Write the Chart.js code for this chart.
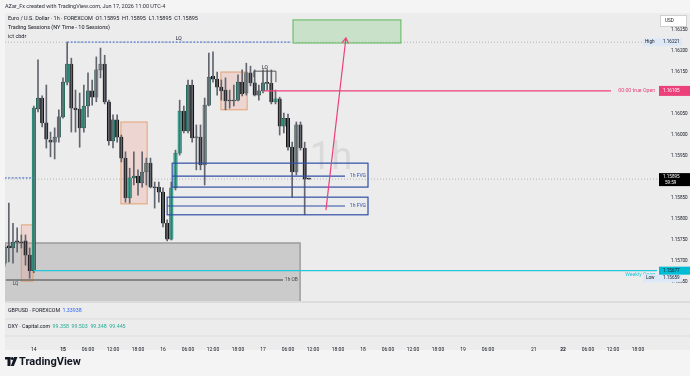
<!DOCTYPE html>
<html>
<head>
<meta charset="utf-8">
<script src="https://cdn.jsdelivr.net/npm/chart.js@4.4.1/dist/chart.umd.min.js"></script>
<style>
  html, body { margin: 0; padding: 0; background: #f2f2f2; }
  canvas { display: block; }
</style>
</head>
<body>
<canvas id="chart" width="690" height="376"></canvas>
<script>
// EURUSD 1h bars, hours counted from Jun 17 00:00 (bar index, weekend removed)
const barIndex = [-62,-61,-60,-59,-58,-57,-56,-55,-54,-53,-52,-51,-50,-49,-48,-47,-46,-45,-44,-43,
  -42,-41,-40,-39,-38,-37,-36,-35,-34,-33,-32,-31,-30,-29,-28,-27,-26,-25,-24,-23,
  -22,-21,-20,-19,-18,-17,-16,-15,-14,-13,-12,-11,-10,-9,-8,-7,-6,-5,-4,-3,
  -2,-1,0,1,2,3,4,5,6,7,8,9,10,11];
const openPrices = [1.15695,1.15736,1.15731,1.15748,1.15745,1.15748,1.15714,1.15677,1.16062,1.16088,
  1.16029,1.15988,1.15983,1.15995,1.16043,1.16126,1.16169,1.16064,1.16062,1.16017,
  1.16069,1.16105,1.16090,1.16155,1.16169,1.16079,1.15986,1.16036,1.15995,1.15945,
  1.15850,1.15898,1.15902,1.15886,1.15912,1.15933,1.15876,1.15876,1.15864,1.15790,
  1.15752,1.15874,1.15957,1.16057,1.16010,1.16119,1.15993,1.15995,1.15929,1.16071,
  1.16140,1.16133,1.16114,1.16107,1.16083,1.16081,1.16083,1.16126,1.16100,1.16148,
  1.16124,1.16095,1.16105,1.16124,1.16123,1.16079,1.16086,1.16021,1.16040,1.15971,
  1.15912,1.16024,1.15969,1.15895];
const highPrices = [1.15740,1.15838,1.15790,1.15779,1.15762,1.15762,1.15731,1.16069,1.16179,1.16093,
  1.16119,1.16007,1.16017,1.16060,1.16136,1.16221,1.16183,1.16107,1.16100,1.16119,
  1.16148,1.16131,1.16186,1.16207,1.16190,1.16083,1.16048,1.16048,1.16000,1.15960,
  1.15921,1.15960,1.15917,1.15960,1.15945,1.15945,1.15888,1.15888,1.15874,1.15798,
  1.15888,1.15964,1.16083,1.16069,1.16131,1.16131,1.16024,1.16024,1.16088,1.16195,
  1.16198,1.16150,1.16131,1.16136,1.16107,1.16119,1.16143,1.16155,1.16171,1.16164,
  1.16155,1.16119,1.16155,1.16155,1.16155,1.16107,1.16090,1.16052,1.16050,1.15983,
  1.16031,1.16031,1.15983,1.15895];
const lowPrices = [1.15688,1.15698,1.15695,1.15721,1.15731,1.15690,1.15659,1.15672,1.16055,1.16019,
  1.15969,1.15948,1.15943,1.15983,1.16040,1.16119,1.16007,1.16007,1.15971,1.16007,
  1.16043,1.16071,1.16079,1.16136,1.16074,1.15976,1.15969,1.15983,1.15936,1.15840,
  1.15838,1.15881,1.15857,1.15876,1.15881,1.15874,1.15826,1.15840,1.15781,1.15748,
  1.15750,1.15869,1.15952,1.16005,1.16005,1.15983,1.15917,1.15917,1.15881,1.16069,
  1.16126,1.16095,1.16083,1.16060,1.16064,1.16069,1.16081,1.16093,1.16095,1.16117,
  1.16093,1.16083,1.16100,1.16107,1.16074,1.16074,1.16000,1.16005,1.15964,1.15852,
  1.15905,1.15964,1.15810,1.15895];
const closePrices = [1.15733,1.15731,1.15745,1.15745,1.15743,1.15714,1.15677,1.16064,1.16088,1.16029,
  1.15990,1.15983,1.15995,1.16043,1.16126,1.16169,1.16064,1.16060,1.16017,1.16069,
  1.16105,1.16090,1.16155,1.16169,1.16079,1.15986,1.16036,1.15995,1.15945,1.15850,
  1.15898,1.15902,1.15886,1.15912,1.15933,1.15876,1.15874,1.15864,1.15790,1.15752,
  1.15874,1.15957,1.16057,1.16010,1.16119,1.15993,1.15995,1.15929,1.16071,1.16138,
  1.16133,1.16114,1.16105,1.16081,1.16081,1.16083,1.16126,1.16098,1.16148,1.16124,
  1.16095,1.16105,1.16124,1.16123,1.16079,1.16086,1.16021,1.16040,1.15971,1.15912,
  1.16024,1.15969,1.15895,1.15895];

// time axis
const timeTickPos = [-55,-48,-42,-36,-30,-24,-18,-12,-6,0,6,12,18,24,30,36,42,48,54,65,72,78,84,90];
const timeTickLabels = ['14','15','06:00','12:00','18:00','16','06:00','12:00','18:00','17','06:00','12:00','18:00',
  '18','06:00','12:00','18:00','19','06:00','21','22','06:00','12:00','18:00'];
const boldTickLabels = ['15','22'];
const priceTicks = [1.1565,1.157,1.1575,1.158,1.1585,1.159,1.1595,1.16,1.1605,1.161,1.1615,1.162,1.1625];

// levels
const lastPrice = 1.15895;
const weekHigh = 1.16221;
const weekLow = 1.15659;
const weeklyOpen = 1.15677;
const trueOpen = 1.16105;

// drawings: [fromBar, toBar, topPrice, bottomPrice]
const orderBlocks = [[-58.0, -55.2, 1.15786, 1.15652], [-34.1, -27.8, 1.16031, 1.15836], [-10.1, -3.8, 1.16150, 1.16060]];
const fvgZones = [[-21.8, 25.2, 1.15933, 1.15876, 1.15902], [-23.0, 25.2, 1.15852, 1.15810, 1.15831]];
const obZone = [-62, 8.9, 1.15743, 1.15602];
const obLine = [-61.7, 4.8, 1.15655];
const targetBox = [7.2, 33.1, 1.16274, 1.16219];
const lqTop = [-47, 6.5, 1.16221];
const lqLeft = [-62, -55, 1.15898];
const lqBracket = [-2.2, 3.1, 1.16152];
const arrowFrom = [15.1, 1.15821];
const arrowTo = [19.9, 1.16231];

const FONT = 'Roboto, "Liberation Sans", sans-serif';
const TEXT = '#131722';
const BULL = '#38bba0';
const BEAR = '#141414';
const PINK = '#ec407a';
const BLUE = '#2f4ea6';

function font(size, weight) {
  return (weight || 'normal') + ' ' + size + 'px ' + FONT;
}

const overlayPlugin = {
  id: 'overlay',
  beforeDraw(chart) {
    const c = chart.ctx;
    const a = chart.chartArea;
    c.save();
    c.fillStyle = '#f4f4f4';
    c.fillRect(0, 0, 690, 376);
    c.fillStyle = '#ececec';
    c.fillRect(a.left, a.top, 690 - a.left, 350 - a.top);
    c.restore();
  },
  beforeDatasetsDraw(chart) {
    const c = chart.ctx;
    const a = chart.chartArea;
    const X = v => chart.scales.x.getPixelForValue(v);
    const Y = v => chart.scales.y.getPixelForValue(v);
    c.save();
    c.beginPath();
    c.rect(a.left, a.top, a.right - a.left, a.bottom - a.top);
    c.clip();

    // watermark
    c.fillStyle = 'rgba(150,150,150,0.2)';
    c.font = font(38);
    c.textAlign = 'center';
    c.textBaseline = 'middle';
    c.fillText('1h', (a.left + a.right) / 2, (a.top + a.bottom) / 2 + 2);

    // order block zone
    c.fillStyle = '#cbcbcb';
    const gx = X(obZone[0]), gr = X(obZone[1]), gt = Y(obZone[2]), gb = Y(obZone[3]);
    c.fillRect(gx, gt, gr - gx, gb - gt);
    c.strokeStyle = '#9c9c9c';
    c.lineWidth = 1.5;
    c.beginPath();
    c.moveTo(gx, gt); c.lineTo(gr, gt); c.lineTo(gr, gb);
    c.stroke();

    // dotted high and last price lines
    c.setLineDash([1, 2]);
    c.lineWidth = 1;
    c.strokeStyle = '#b5b5b5';
    c.beginPath();
    c.moveTo(a.left, Y(weekHigh)); c.lineTo(a.right, Y(weekHigh));
    c.moveTo(a.left, Y(lastPrice)); c.lineTo(a.right, Y(lastPrice));
    c.stroke();
    c.setLineDash([]);

    // order blocks
    orderBlocks.forEach(b => {
      const x0 = X(b[0]), x1 = X(b[1]), y0 = Y(b[2]), y1 = Y(b[3]);
      c.fillStyle = 'rgba(240,160,150,0.3)';
      c.fillRect(x0, y0, x1 - x0, y1 - y0);
      c.strokeStyle = 'rgba(225,150,95,0.85)';
      c.lineWidth = 1;
      c.strokeRect(x0, y0, x1 - x0, y1 - y0);
    });

    // target box
    const tx = X(targetBox[0]), tr = X(targetBox[1]), tt = Y(targetBox[2]), tb = Y(targetBox[3]);
    c.fillStyle = 'rgba(120,195,120,0.3)';
    c.fillRect(tx, tt, tr - tx, tb - tt);
    c.strokeStyle = '#5cb85c';
    c.lineWidth = 1;
    c.strokeRect(tx, tt, tr - tx, tb - tt);
    c.restore();
  },
  afterDatasetsDraw(chart) {
    const c = chart.ctx;
    const a = chart.chartArea;
    const X = v => chart.scales.x.getPixelForValue(v);
    const Y = v => chart.scales.y.getPixelForValue(v);
    c.save();
    c.beginPath();
    c.rect(a.left, a.top, a.right - a.left, a.bottom - a.top);
    c.clip();

    // fair value gaps
    fvgZones.forEach(z => {
      const x0 = X(z[0]), x1 = X(z[1]), y0 = Y(z[2]), y1 = Y(z[3]), ym = Y(z[4]);
      c.strokeStyle = BLUE;
      c.lineWidth = 1.2;
      c.strokeRect(x0, y0, x1 - x0, y1 - y0);
      c.beginPath();
      c.moveTo(x0, ym); c.lineTo(x1 - 23, ym);
      c.stroke();
      c.fillStyle = BLUE;
      c.font = font(5);
      c.textAlign = 'right';
      c.textBaseline = 'middle';
      c.fillText('1h FVG', x1 - 2, ym);
    });

    // liquidity lines
    c.setLineDash([2, 1.5]);
    c.strokeStyle = '#5b7fd0';
    c.lineWidth = 1.2;
    c.beginPath();
    c.moveTo(X(lqTop[0]), Y(lqTop[2])); c.lineTo(X(lqTop[1]), Y(lqTop[2]));
    c.moveTo(X(lqLeft[0]), Y(lqLeft[2])); c.lineTo(X(lqLeft[1]), Y(lqLeft[2]));
    c.stroke();
    c.setLineDash([]);
    c.fillStyle = TEXT;
    c.font = font(5);
    c.textAlign = 'center';
    c.textBaseline = 'bottom';
    c.fillText('LQ', (X(lqTop[0]) + X(lqTop[1])) / 2, Y(lqTop[2]) - 1);

    // LQ bracket
    const bx0 = X(lqBracket[0]), bx1 = X(lqBracket[1]), by = Y(lqBracket[2]);
    c.strokeStyle = '#555';
    c.lineWidth = 1;
    c.beginPath();
    c.moveTo(bx0, by + 6); c.lineTo(bx0, by); c.lineTo(bx1, by); c.lineTo(bx1, by + 11);
    c.stroke();
    c.fillText('LQ', (bx0 + bx1) / 2, by - 1);

    // true open line
    c.strokeStyle = PINK;
    c.lineWidth = 1.3;
    c.beginPath();
    c.moveTo(X(0), Y(trueOpen)); c.lineTo(a.right - 46, Y(trueOpen));
    c.stroke();
    c.fillStyle = PINK;
    c.font = font(5.2);
    c.textAlign = 'right';
    c.textBaseline = 'middle';
    c.fillText('00:00 true Open', a.right - 2, Y(trueOpen));

    // weekly open line
    c.strokeStyle = '#26c6da';
    c.lineWidth = 1.2;
    c.beginPath();
    c.moveTo(X(-55), Y(weeklyOpen)); c.lineTo(a.right, Y(weeklyOpen));
    c.stroke();
    c.fillStyle = '#26c6da';
    c.textBaseline = 'top';
    c.fillText('Weekly Open', a.right - 2, Y(weeklyOpen) + 1);

    // 1h OB line
    c.strokeStyle = '#6f6f6f';
    c.lineWidth = 1.5;
    c.beginPath();
    c.moveTo(X(obLine[0]), Y(obLine[2])); c.lineTo(X(obLine[1]), Y(obLine[2]));
    c.stroke();
    c.fillStyle = '#444';
    c.font = font(4.8);
    c.textAlign = 'left';
    c.textBaseline = 'middle';
    c.fillText('1h OB', X(obLine[1]) + 2, Y(obLine[2]));
    c.textAlign = 'center';
    c.textBaseline = 'top';
    c.fillText('LQ', X(-59.4), Y(obLine[2]) + 1);

    // arrow
    const ax0 = X(arrowFrom[0]), ay0 = Y(arrowFrom[1]), ax1 = X(arrowTo[0]), ay1 = Y(arrowTo[1]);
    const ang = Math.atan2(ay1 - ay0, ax1 - ax0);
    c.strokeStyle = PINK;
    c.lineWidth = 1.2;
    c.beginPath();
    c.moveTo(ax0, ay0); c.lineTo(ax1, ay1);
    c.moveTo(ax1 - 6 * Math.cos(ang - 0.55), ay1 - 6 * Math.sin(ang - 0.55));
    c.lineTo(ax1, ay1);
    c.lineTo(ax1 - 6 * Math.cos(ang + 0.55), ay1 - 6 * Math.sin(ang + 0.55));
    c.stroke();
    c.restore();
  },
  afterDraw(chart) {
    const c = chart.ctx;
    const a = chart.chartArea;
    const Y = v => chart.scales.y.getPixelForValue(v);
    c.save();

    // header
    c.textAlign = 'left';
    c.textBaseline = 'middle';
    c.fillStyle = '#2a2e39';
    c.font = font(5.5);
    c.fillText('AZar_Fx created with TradingView.com, Jun 17, 2026 11:00 UTC-4', 5, 7);
    c.fillStyle = TEXT;
    c.fillText('Euro / U.S. Dollar · 1h · FOREXCOM  O1.15895  H1.15895  L1.15895  C1.15895', 8, 19);
    c.fillText('Trading Sessions (NY Time - 10 Sessions)', 8, 28);
    c.fillText('ict cbdr', 8, 37);

    // lower panes
    c.fillStyle = '#dcdcdc';
    c.fillRect(a.left, 301, 690 - a.left, 2);
    c.fillRect(a.left, 318.5, 690 - a.left, 1);
    c.fillRect(a.left, 335.5, 690 - a.left, 1);
    c.fillStyle = TEXT;
    c.font = font(5.3);
    c.fillText('GBPUSD · FOREXCOM', 8, 311);
    c.fillStyle = '#2962ff';
    c.fillText('1.33938', 8 + c.measureText('GBPUSD · FOREXCOM ').width + 1, 311);
    c.fillStyle = TEXT;
    c.fillText('DXY · Capital.com', 8, 327);
    c.fillStyle = '#22ab94';
    c.fillText('99.358  99.503  99.348  99.445', 8 + c.measureText('DXY · Capital.com ').width + 1, 327);

    // price scale labels
    const lx = a.right + 2;
    function tag(price, bg, fg, txt, h) {
      const y = Y(price);
      c.fillStyle = bg;
      c.fillRect(lx, y - h / 2, 690 - lx, h);
      c.fillStyle = fg;
      c.textAlign = 'left';
      c.fillText(txt, a.right + 6, y);
    }
    c.font = font(4.6);
    c.fillStyle = '#ffffff';
    c.fillRect(a.right + 3, 15, 27, 12);
    c.strokeStyle = '#d0d0d0';
    c.strokeRect(a.right + 3.5, 15.5, 26, 11);
    c.fillStyle = TEXT;
    c.fillText('USD', a.right + 8, 21);

    c.fillStyle = '#dde8f6';
    c.fillRect(a.right - 14, Y(weekHigh) - 4, 690 - a.right + 14 - 8, 8);
    c.fillRect(a.right - 14, Y(weekLow) - 4, 690 - a.right + 14 - 8, 8);
    c.fillStyle = TEXT;
    c.textAlign = 'left';
    c.fillText('High', a.right - 12, Y(weekHigh));
    c.fillText('1.16221', a.right + 6, Y(weekHigh));
    c.fillText('Low', a.right - 11, Y(weekLow));
    c.fillText('1.15659', a.right + 6, Y(weekLow));

    tag(trueOpen, PINK, '#ffffff', '1.16105', 10);
    tag(weeklyOpen, '#00bcd4', TEXT, '1.15677', 8);
    const ly = Y(lastPrice);
    c.fillStyle = '#000000';
    c.fillRect(lx, ly - 6, 690 - lx, 13);
    c.fillStyle = '#ffffff';
    c.fillText('1.15895', a.right + 6, ly - 2.5);
    c.fillText('59:59', a.right + 8, ly + 3.5);

    // logo
    c.fillStyle = '#131722';
    c.fillRect(5, 357, 5.5, 2.5);
    c.fillRect(7.5, 357, 3, 9);
    c.beginPath();
    c.arc(12.3, 358.6, 1.5, 0, Math.PI * 2);
    c.fill();
    c.beginPath();
    c.moveTo(14.2, 357); c.lineTo(17.5, 357); c.lineTo(13.8, 366); c.lineTo(10.8, 366);
    c.closePath();
    c.fill();
    c.font = font(11, 'bold');
    c.textBaseline = 'middle';
    c.fillText('TradingView', 19, 362);
    c.restore();
  }
};

const wickData = barIndex.map((h, i) => ({ x: h, y: [lowPrices[i], highPrices[i]] }));
const bodyData = barIndex.map((h, i) => ({ x: h, y: [openPrices[i], closePrices[i]] }));
const bodyColors = barIndex.map((h, i) => closePrices[i] >= openPrices[i] && closePrices[i] !== openPrices[i] ? BULL : BEAR);

new Chart(document.getElementById('chart'), {
  type: 'bar',
  data: {
    datasets: [
      {
        label: 'wicks',
        data: wickData,
        backgroundColor: '#62656e',
        barThickness: 1,
        grouped: false,
        borderWidth: 0,
        minBarLength: 1
      },
      {
        label: 'bodies',
        data: bodyData,
        backgroundColor: bodyColors,
        borderColor: '#151515',
        borderWidth: 0.5,
        borderSkipped: false,
        barThickness: 3.4,
        grouped: false,
        minBarLength: 1
      }
    ]
  },
  options: {
    responsive: false,
    animation: false,
    devicePixelRatio: 1,
    layout: { padding: { left: 5, top: 13, right: 0, bottom: 0 } },
    plugins: { legend: { display: false }, tooltip: { enabled: false } },
    scales: {
      x: {
        type: 'linear',
        offset: false,
        min: -61.92,
        max: 94.56,
        grid: { display: false, offset: false },
        border: { display: false },
        afterFit: s => { s.height = 74; s.paddingLeft = 0; s.paddingRight = 0; },
        afterBuildTicks: s => { s.ticks = timeTickPos.map(v => ({ value: v })); },
        ticks: {
          autoSkip: false,
          maxRotation: 0,
          padding: 37,
          color: TEXT,
          font: ctx => ({ family: FONT, size: 5, weight: boldTickLabels.includes(timeTickLabels[ctx.index]) ? 'bold' : 'normal' }),
          callback: (v, i) => timeTickLabels[i]
        }
      },
      y: {
        type: 'linear',
        position: 'right',
        min: 1.156024,
        max: 1.162905,
        grid: { display: false },
        border: { display: false },
        afterFit: s => { s.width = 33; },
        afterBuildTicks: s => { s.ticks = priceTicks.map(v => ({ value: v })); },
        ticks: {
          padding: 6,
          color: TEXT,
          font: { family: FONT, size: 4.6 },
          callback: v => v.toFixed(5)
        }
      }
    }
  },
  plugins: [overlayPlugin]
});
</script>
</body>
</html>
